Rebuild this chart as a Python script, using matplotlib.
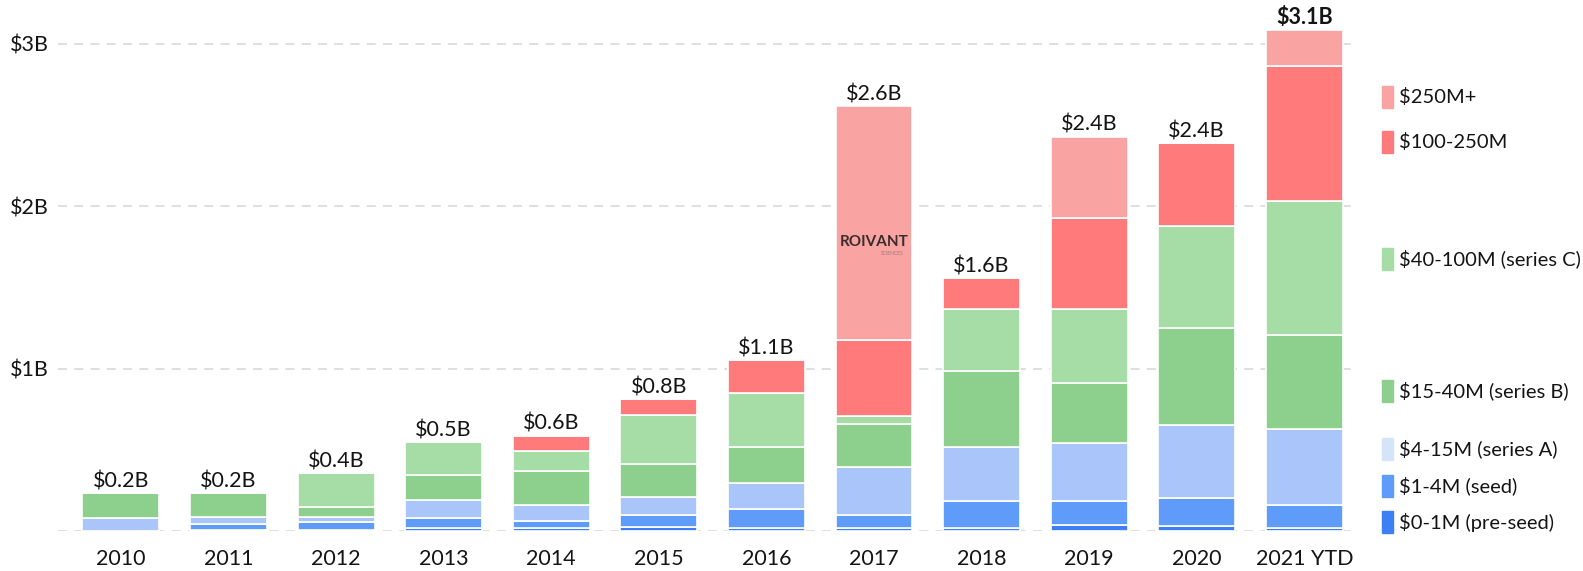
import matplotlib
matplotlib.use("Agg")
import matplotlib.pyplot as plt
import matplotlib.transforms as mtransforms
from matplotlib.patches import Rectangle
import numpy as np

plt.rcParams['font.family'] = ['Lato', 'DejaVu Sans']

years = ["2010", "2011", "2012", "2013", "2014", "2015", "2016",
         "2017", "2018", "2019", "2020", "2021 YTD"]

# round size buckets, values in $B (bottom to top of each bar)
pre_seed = [0.000, 0.006, 0.007, 0.017, 0.020, 0.023, 0.020, 0.017, 0.020, 0.037, 0.033, 0.017]
seed     = [0.003, 0.037, 0.050, 0.062, 0.043, 0.076, 0.115, 0.082, 0.164, 0.148, 0.172, 0.143]
series_a = [0.074, 0.045, 0.027, 0.113, 0.095, 0.109, 0.162, 0.297, 0.334, 0.359, 0.449, 0.468]
series_b = [0.158, 0.148, 0.065, 0.154, 0.213, 0.205, 0.218, 0.263, 0.466, 0.369, 0.595, 0.579]
series_c = [0.000, 0.000, 0.210, 0.199, 0.123, 0.302, 0.336, 0.051, 0.380, 0.457, 0.628, 0.827]
m100_250 = [0.000, 0.000, 0.000, 0.000, 0.094, 0.097, 0.200, 0.466, 0.195, 0.560, 0.514, 0.829]
m250_plus = [0.000, 0.000, 0.000, 0.000, 0.000, 0.000, 0.000, 1.441, 0.000, 0.499, 0.000, 0.222]

totals_text = ["$0.2B", "$0.2B", "$0.4B", "$0.5B", "$0.6B", "$0.8B", "$1.1B",
               "$2.6B", "$1.6B", "$2.4B", "$2.4B", "$3.1B"]

series = [pre_seed, seed, series_a, series_b, series_c, m100_250, m250_plus]
names = ["$0-1M (pre-seed)", "$1-4M (seed)", "$4-15M (series A)", "$15-40M (series B)",
         "$40-100M (series C)", "$100-250M", "$250M+"]
colors = ["#3d80f5", "#5f9cfa", "#a9c5fa", "#8dd08d", "#a6dca6", "#ff7b7b", "#f9a3a3"]
patch_colors = ["#3d80f5", "#5f9cfa", "#d6e4fa", "#8dd08d", "#a6dca6", "#ff7b7b", "#f9a3a3"]
# legend entry heights ($B), hand placed beside the last bar
legend_y = [0.055, 0.277, 0.505, 0.862, 1.675, 2.395, 2.672]

W, H = 1583, 571
fig = plt.figure(figsize=(W / 100, H / 100), dpi=100)
ax = fig.add_axes([58 / W, 40 / H, 1299 / W, 511 / H])

x = np.arange(len(years))
bottom = np.zeros(len(years))
for vals, c in zip(series, colors):
    ax.bar(x, vals, bottom=bottom, width=0.715, color=c, edgecolor="white", linewidth=1.2)
    bottom += np.array(vals)

for i, (tot, txt) in enumerate(zip(bottom, totals_text)):
    ax.annotate(txt.replace("$", r"\$"), (i, tot), xytext=(0, 4), textcoords="offset points",
                ha="center", va="baseline", fontsize=15.5, color="#141414",
                fontweight="bold" if i == len(years) - 1 else "normal")

# logo inside the 2017 bar
ax.text(7, 1.78, "ROIVANT", ha="center", va="center", fontsize=11,
        fontweight="bold", color="#3a2c2c")
ax.text(7.17, 1.71, "SCIENCES", ha="center", va="center", fontsize=3.5, color="#9a7b7b")

ax.set_xlim(-0.585, 11.49)
ax.set_ylim(0, 511 / 162.4)
ax.set_xticks(x, years)
ax.set_yticks([0, 1, 2, 3], ["", r"\$1B", r"\$2B", r"\$3B"])
ax.tick_params(axis="x", length=0, pad=13, labelsize=15.5, labelcolor="#141414")
ax.tick_params(axis="y", length=0, pad=0, labelsize=15.5, labelcolor="#141414")
for lab in ax.get_yticklabels():
    lab.set_horizontalalignment("left")
    lab.set_x(-48 / 1299)
for s in ax.spines.values():
    s.set_visible(False)
ax.set_axisbelow(True)
ax.grid(axis="y", color="#dcdcdc", linewidth=1.3, linestyle=(0, (5, 4)))

# legend on the right
trans = mtransforms.blended_transform_factory(fig.transFigure, ax.transData)
for name, c, ly in zip(names, patch_colors, legend_y):
    ax.add_patch(Rectangle((1382 / W, ly - 0.068), 11 / W, 0.136, transform=trans,
                           color=c, clip_on=False))
    ax.text(1399 / W, ly, name.replace("$", r"\$"), transform=trans, ha="left",
            va="center", fontsize=14.5, color="#141414")

fig.savefig("out.png", dpi=100)
